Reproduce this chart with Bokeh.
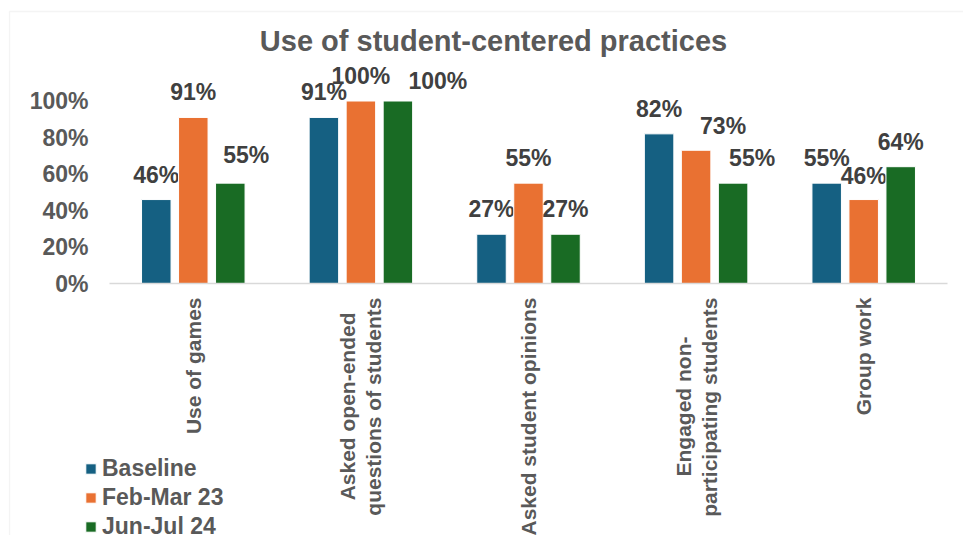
import math
from bokeh.plotting import figure
from bokeh.models import (ColumnDataSource, Range1d, FixedTicker, NumeralTickFormatter,
                          Legend, LegendItem, BoxAnnotation, Label, LinearAxis)
from bokeh.transform import dodge
from bokeh.core.properties import value
from bokeh.embed import file_html
from bokeh.resources import INLINE

title = "Use of student-centered practices"
categories = ["Use of games", "Asked open-ended\nquestions of students",
              "Asked student opinions", "Engaged non-\nparticipating students", "Group work"]
series = ["Baseline", "Feb-Mar 23", "Jun-Jul 24"]
baseline = [0.46, 0.91, 0.27, 0.82, 0.55]
feb_mar_23 = [0.91, 1.00, 0.55, 0.73, 0.46]
jun_jul_24 = [0.55, 1.00, 0.27, 0.55, 0.64]
y_ticks = [0, 0.2, 0.4, 0.6, 0.8, 1.0]

# ---- styling / layout ----
colors = ["#156082", "#E97132", "#196B24"]
offsets = [-0.2208, 0.0, 0.2208]
label_dx = [[0, 0, 0, 0, 0], [0, 0, 0, 27, 0], [16, 40, 0, 19, 0]]
label_dy = [[-25, -25, -25, -25, -25], [-25, -25, -25, -24, -24], [-28, -20, -25, -25, -25]]
line_shift = {"Asked open-ended": 15, "Engaged non-": 39}   # centre short wrapped lines (px)
FONT = "Liberation Sans"
W, H = 963, 535
BAND = 167.6          # px per category
PX_PER_UNIT = 182.5   # px per 100 %
AX_LEFT, AX_BOTTOM = 109, 283
LINE_SP = 26 / BAND   # spacing of wrapped label lines
BASE_STANDOFF = 14

x_pos = list(range(1, len(categories) + 1))
x_start = 0.5 - AX_LEFT / BAND
x_end = x_start + W / BAND
y_end = AX_BOTTOM / PX_PER_UNIT
y_start = -(H - AX_BOTTOM) / PX_PER_UNIT

p = figure(width=W, height=H, x_range=Range1d(x_start, x_end), y_range=Range1d(y_start, y_end),
           output_backend="svg", toolbar_location=None, title=None,
           min_border=0, background_fill_color="white", border_fill_color="white")
p.outline_line_color = None
p.xgrid.visible = False
p.ygrid.visible = False

all_vals = [baseline, feb_mar_23, jun_jul_24]
items = []
for i, s in enumerate(series):
    vals = all_vals[i]
    src = ColumnDataSource(dict(x=x_pos, val=vals,
                                label=[f"{round(v * 100)}%" for v in vals],
                                dx=label_dx[i], dy=label_dy[i]))
    r = p.vbar(x=dodge("x", offsets[i]), top="val", bottom=0, width=0.176,
               source=src, fill_color=colors[i], line_color="white", line_width=1)
    p.text(x=dodge("x", offsets[i]), y="val", text="label", source=src,
           x_offset="dx", y_offset="dy", text_align="center", text_baseline="middle",
           text_font=value(FONT), text_font_style="bold", text_font_size="23px",
           text_color="#404040")
    items.append(LegendItem(label=s, renderers=[r]))

# category label lines, grouped by standoff (one axis per group)
groups = {}
for pos, cat in zip(x_pos, categories):
    lines = cat.split("\n")
    k = len(lines)
    for j, line in enumerate(lines):
        lx = pos + (j - (k - 1) / 2) * LINE_SP
        so = BASE_STANDOFF + line_shift.get(line, 0)
        groups.setdefault(so, {})[lx] = line


def style_x_axis(ax, standoff, labels):
    ax.fixed_location = 0
    ax.bounds = (0.5, len(categories) + 0.5)
    ax.ticker = FixedTicker(ticks=list(labels.keys()))
    ax.major_label_overrides = labels
    ax.major_tick_line_color = None
    ax.minor_tick_line_color = None
    ax.major_tick_out = 0
    ax.major_tick_in = 0
    ax.major_label_orientation = math.pi / 2
    ax.major_label_standoff = standoff
    ax.major_label_text_font = FONT
    ax.major_label_text_font_style = "bold"
    ax.major_label_text_font_size = "21px"
    ax.major_label_text_color = "#595959"


xa = p.xaxis[0]
style_x_axis(xa, BASE_STANDOFF, groups[BASE_STANDOFF])
xa.axis_line_color = "#d9d9d9"
xa.axis_line_width = 1.5
for so, labels in groups.items():
    if so == BASE_STANDOFF:
        continue
    extra = LinearAxis()
    style_x_axis(extra, so, labels)
    extra.axis_line_color = None
    p.add_layout(extra, "below")

# y axis (percent)
ya = p.yaxis[0]
ya.fixed_location = 0.5
ya.ticker = FixedTicker(ticks=y_ticks)
ya.formatter = NumeralTickFormatter(format="0%")
ya.axis_line_color = None
ya.major_tick_line_color = None
ya.minor_tick_line_color = None
ya.major_tick_out = 0
ya.major_tick_in = 0
ya.major_label_standoff = 21
ya.major_label_text_font = FONT
ya.major_label_text_font_style = "bold"
ya.major_label_text_font_size = "23px"
ya.major_label_text_color = "#595959"

# title
p.add_layout(Label(x=493, y=40, x_units="canvas", y_units="canvas", text=title,
                   text_align="center", text_baseline="middle", text_font=FONT,
                   text_font_size="29px", text_font_style="bold", text_color="#595959"))

legend = Legend(items=items, location=(84, -5.5), orientation="vertical",
                glyph_width=13, glyph_height=13, label_standoff=5, label_height=29,
                spacing=0, padding=0, margin=0, border_line_color=None,
                background_fill_alpha=0, label_text_font=FONT,
                label_text_font_size="23px", label_text_font_style="bold",
                label_text_color="#595959")
p.add_layout(legend)

frame_box = BoxAnnotation(left=9, right=1500, top=11, bottom=1500,
                          left_units="canvas", right_units="canvas",
                          top_units="canvas", bottom_units="canvas",
                          fill_alpha=0, line_color="#d9d9d9", line_width=1.3)
p.add_layout(frame_box)

open("out.html", "w").write(file_html(p, INLINE))
